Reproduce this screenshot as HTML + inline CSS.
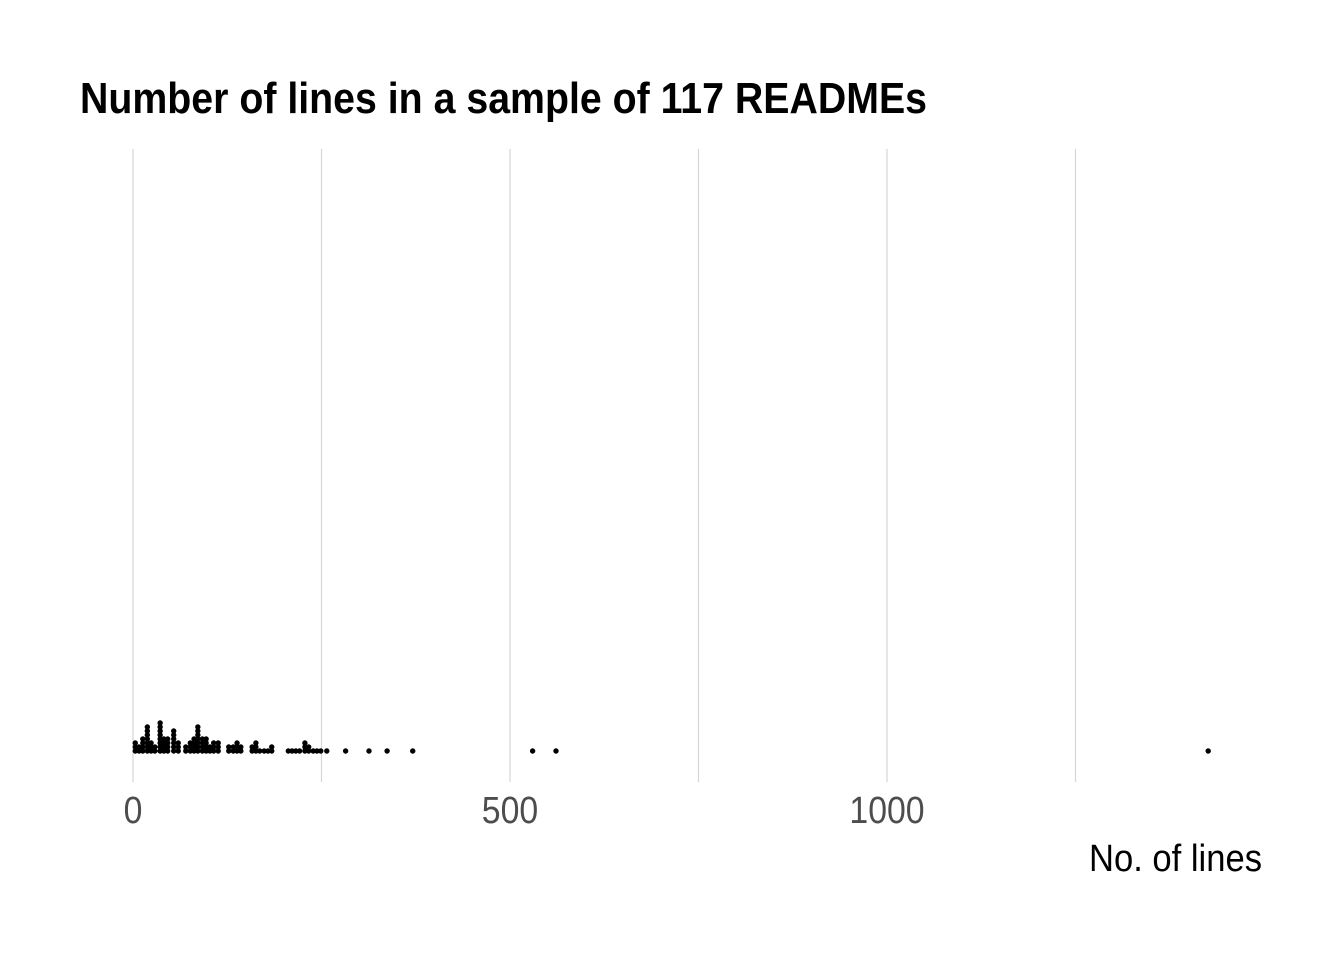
<!DOCTYPE html>
<html><head><meta charset="utf-8"><style>
body{margin:0;background:#fff}
svg text{font-family:"Liberation Sans Narrow","Liberation Sans",sans-serif}
</style></head><body>
<svg width="1344" height="960">
<text x="80" y="113" font-size="44" font-weight="bold" fill="#000" textLength="847" lengthAdjust="spacingAndGlyphs">Number of lines in a sample of 117 READMEs</text>
<g id="grid"></g>
<g id="ticks"></g>
<g id="dots"></g>
<text x="1089" y="871" font-size="38" fill="#000" textLength="173" lengthAdjust="spacingAndGlyphs">No. of lines</text>
</svg>
<script>
const lineValues=[3,8,13,19,24,29,36,41,46,54,60,70,76,81,86,92,97,102,107,113,127,133,138,143,158,163,168,174,179,184,206,211,216,221,228,233,239,244,249,257,282,313,337,371,530,561,1426];
const stackCounts=[3,2,4,7,3,2,8,4,4,6,3,2,3,4,7,4,4,2,3,3,2,2,3,2,2,3,1,1,1,2,1,1,1,1,3,2,1,1,1,1,1,1,1,1,1,1,1];
const gridValues=[0,250,500,750,1000,1250];
const tickLabels=[0,500,1000];
const NS="http://www.w3.org/2000/svg";
const x=v=>133+v*0.754;
const grid=document.getElementById('grid'),ticks=document.getElementById('ticks'),dots=document.getElementById('dots');
gridValues.forEach(g=>{const l=document.createElementNS(NS,'line');
l.setAttribute('x1',x(g));l.setAttribute('x2',x(g));l.setAttribute('y1',149);l.setAttribute('y2',782);
l.setAttribute('stroke','#d6d6d6');l.setAttribute('stroke-width','1.2');


grid.appendChild(l);});
tickLabels.forEach(t=>{const e=document.createElementNS(NS,'text');
e.setAttribute('x',x(t));e.setAttribute('y',823);e.setAttribute('text-anchor','middle');
e.setAttribute('font-size','38');e.setAttribute('fill','#4d4d4d');e.textContent=t;
e.setAttribute('textLength',String(t).length*18.8);e.setAttribute('lengthAdjust','spacingAndGlyphs');


ticks.appendChild(e);});
lineValues.forEach((v,i)=>{for(let k=0;k<stackCounts[i];k++){const c=document.createElementNS(NS,'circle');
c.setAttribute('cx',x(v));c.setAttribute('cy',751-k*4);c.setAttribute('r',2.7);c.setAttribute('fill','#000');


dots.appendChild(c);}});
</script>
</body></html>
